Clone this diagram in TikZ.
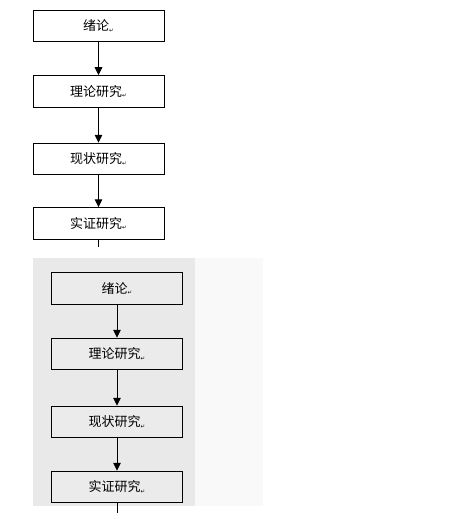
\documentclass[tikz,border=0pt]{standalone}
\usepackage{fontspec}
\newfontfamily\cjk{Noto Sans CJK SC}
\newfontfamily\symfont{DejaVu Sans}
\usetikzlibrary{arrows.meta}
\definecolor{panelgray}{HTML}{E9E9E9}
\definecolor{panellight}{HTML}{F9F9F9}
\definecolor{boxgray}{HTML}{EBEBEB}
\newcommand{\retmark}{{\symfont\fontsize{5.5}{5.5}\selectfont\raisebox{-1.5pt}{↵}}}

\begin{document}
\begin{tikzpicture}[x=1pt,y=-1pt,
  stagebox/.style={draw,line width=1pt,minimum width=131pt,minimum height=31.5pt,inner sep=0pt,font=\cjk\fontsize{13}{15}\selectfont},
  flow/.style={line width=1pt,-{Triangle[width=7.5pt,length=8pt]}}]
\useasboundingbox (0,0) rectangle (465,519);
% upper chart
\node[stagebox] (u1) at (98.5,26) {绪论\retmark};
\node[stagebox] (u2) at (98.5,91.5) {理论研究\retmark};
\node[stagebox] (u3) at (98.5,159) {现状研究\retmark};
\node[stagebox] (u4) at (98.5,223.5) {实证研究\retmark};
\coordinate (uend) at (98.5,247);
\draw [flow] (u1) -- (u2);
\draw [flow] (u2) -- (u3);
\draw [flow] (u3) -- (u4);
\draw [line width=1pt] (u4) -- (uend);
% lower chart on grey panel
\fill [panellight] (195,258) rectangle (263,506);
\fill [panelgray] (33,258) rectangle (195,506);
\node[stagebox,fill=boxgray] (l1) at (117,288.5) {绪论\retmark};
\node[stagebox,fill=boxgray] (l2) at (117,354) {理论研究\retmark};
\node[stagebox,fill=boxgray] (l3) at (117,422) {现状研究\retmark};
\node[stagebox,fill=boxgray] (l4) at (117,487) {实证研究\retmark};
\coordinate (lend) at (117,513);
\draw [flow] (l1) -- (l2);
\draw [flow] (l2) -- (l3);
\draw [flow] (l3) -- (l4);
\draw [line width=1pt] (l4) -- (lend);
\end{tikzpicture}
\end{document}
